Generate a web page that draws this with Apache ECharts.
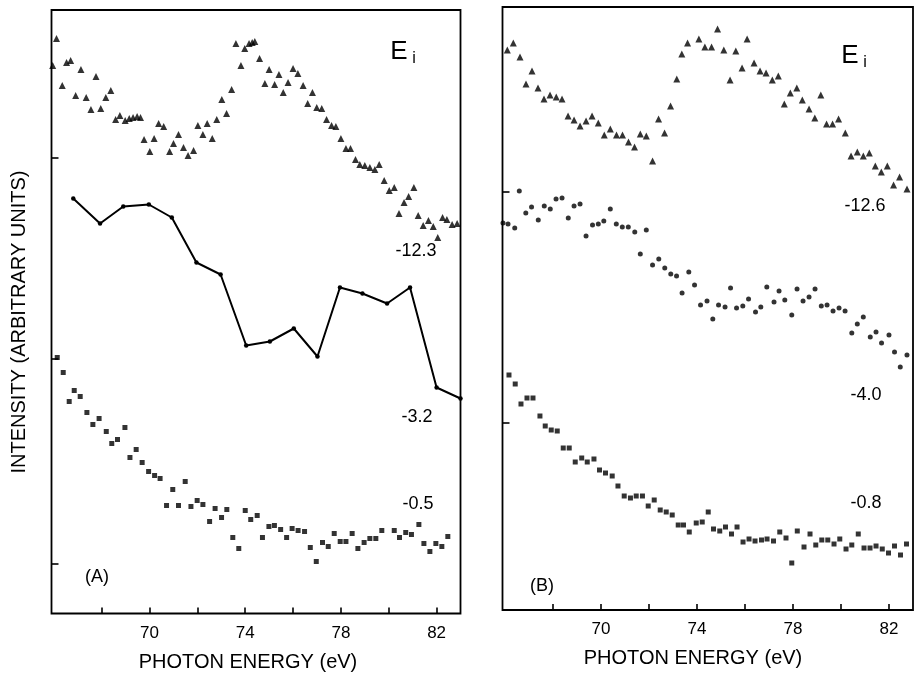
<!DOCTYPE html>
<html>
<head>
<meta charset="utf-8">
<script src="https://cdn.jsdelivr.net/npm/echarts@6/dist/echarts.min.js"></script>
<style>
html,body{margin:0;padding:0;background:#fff;}
#chart{width:914px;height:673px;}
</style>
</head>
<body>
<div id="chart"></div>
<script>
// ---------- Axis / tick definitions ----------
const xRange = [65.9, 83.0];
const xTickValues = [68, 70, 72, 74, 76, 78, 80, 82];
const xLabelValues = [70, 74, 78, 82];
const yTicksA = [4.95, 25.45, 45.55];
const yTicksB = [18.7, 41.8];
const xTitle = 'PHOTON ENERGY (eV)';
const yTitle = 'INTENSITY (ARBITRARY UNITS)';

// ---------- Panel A ----------
// Ei = -12.3 (triangles)
const triA_x = [65.95,66.11,66.35,66.53,66.70,66.91,67.13,67.35,67.55,67.76,67.96,68.17,68.38,68.58,68.76,68.98,69.15,69.31,69.48,69.62,69.77,70.01,70.19,70.38,70.59,70.84,71.00,71.21,71.42,71.61,71.84,72.02,72.23,72.41,72.62,72.81,73.02,73.22,73.43,73.61,73.82,73.98,74.16,74.29,74.40,74.60,74.82,75.00,75.23,75.41,75.59,75.79,76.00,76.20,76.42,76.61,76.81,76.99,77.20,77.40,77.61,77.79,78.00,78.21,78.40,78.61,78.79,79.00,79.21,79.42,79.60,79.81,80.02,80.23,80.43,80.64,80.83,81.05,81.23,81.44,81.66,81.86,82.05,82.25,82.43,82.65,82.86];
const triA_y = [54.8,57.5,52.8,55.1,55.3,51.8,54.4,51.6,50.4,53.7,50.5,51.6,52.3,49.4,49.8,49.3,49.5,49.6,49.7,49.6,47.4,46.2,47.5,49.0,48.7,46.2,47.0,47.9,46.6,45.8,46.3,48.8,47.9,49.0,47.5,49.4,51.4,50.0,52.4,57.0,54.8,56.5,57.0,57.1,57.2,55.5,53.0,54.4,52.9,53.9,52.1,53.1,54.5,54.0,52.8,51.0,52.1,50.6,50.5,49.4,48.8,48.7,47.5,46.5,46.5,45.4,44.9,44.8,44.6,44.4,44.9,43.3,42.3,42.6,40.0,41.1,41.7,42.6,39.8,38.8,39.3,38.7,37.6,39.6,39.4,38.9,39.0];
// Ei = -3.2 (connected points)
const lineA_x = [66.81,67.93,68.90,69.97,70.93,71.96,72.97,74.04,75.03,76.03,77.02,77.96,78.90,79.93,80.89,82.00,83.00];
const lineA_y = [41.5,39.0,40.7,40.9,39.6,35.1,33.9,26.8,27.2,28.5,25.7,32.6,32.0,31.0,32.6,22.6,21.5];
// Ei = -0.5 (squares)
const sqA_x = [66.14,66.39,66.64,66.85,67.10,67.38,67.63,67.89,68.19,68.42,68.66,68.97,69.18,69.44,69.69,69.96,70.21,70.44,70.71,70.97,71.21,71.49,71.73,71.99,72.23,72.51,72.74,73.01,73.23,73.48,73.73,74.00,74.23,74.50,74.72,74.99,75.22,75.48,75.73,75.96,76.21,76.48,76.72,76.97,77.23,77.47,77.72,77.97,78.21,78.47,78.71,78.97,79.21,79.46,79.71,80.23,80.45,80.71,80.95,81.26,81.47,81.72,81.97,82.22,82.47];
const sqA_y = [25.6,24.1,21.2,22.3,21.7,20.1,18.9,19.5,18.2,17.0,17.4,18.6,15.6,16.4,15.1,14.2,13.8,13.5,10.8,12.4,10.8,13.2,10.7,11.3,10.9,9.2,10.5,9.6,10.4,7.6,6.5,10.3,9.4,9.8,7.6,8.7,8.8,8.4,7.6,8.5,8.3,8.2,6.6,5.2,7.1,6.7,8.0,7.2,7.2,8.0,6.5,7.1,7.5,7.5,8.3,8.3,7.6,8.1,7.9,8.9,7.0,6.2,7.0,6.7,7.7];

// ---------- Panel B ----------
// Ei = -12.6 (triangles)
const triB_x = [66.10,66.35,66.63,66.88,67.13,67.38,67.63,67.88,68.14,68.38,68.63,68.88,69.13,69.38,69.63,69.89,70.14,70.39,70.65,70.90,71.15,71.40,71.64,71.89,72.15,72.40,72.65,72.90,73.16,73.37,73.61,74.08,74.33,74.61,74.86,75.12,75.38,75.62,75.88,76.09,76.38,76.63,76.88,77.14,77.39,77.64,77.89,78.16,78.39,78.67,78.91,79.16,79.40,79.65,79.90,80.18,80.42,80.68,80.93,81.18,81.43,81.68,81.93,82.19,82.44,82.75];
const triB_y = [56.0,56.7,55.3,52.6,53.9,52.2,51.1,51.5,51.3,51.1,49.4,49.0,48.4,48.9,49.4,48.7,47.5,48.1,47.5,47.5,46.8,46.3,47.6,47.4,44.9,49.1,47.7,50.4,53.1,55.6,56.7,57.1,56.3,56.3,58.1,56.0,53.0,55.9,54.2,57.1,54.7,53.9,53.7,53.0,53.4,50.6,51.7,52.2,51.0,50.1,49.2,51.5,48.6,48.6,49.1,47.7,45.4,45.8,45.4,45.7,44.4,43.8,44.4,42.5,43.3,42.1];
// Ei = -4.0 (circles)
const circB_x = [65.92,66.13,66.41,66.60,66.87,67.11,67.39,67.64,67.89,68.13,68.38,68.64,68.88,69.13,69.38,69.65,69.89,70.12,70.39,70.64,70.89,71.14,71.41,71.64,71.89,72.15,72.41,72.66,72.91,73.15,73.38,73.66,73.90,74.15,74.42,74.66,74.90,75.17,75.40,75.65,75.91,76.15,76.44,76.66,76.91,77.21,77.42,77.66,77.95,78.17,78.42,78.67,78.92,79.18,79.42,79.67,79.92,80.17,80.45,80.68,80.93,81.22,81.46,81.69,82.00,82.23,82.47,82.75];
const circB_y = [38.7,38.6,38.2,41.9,39.7,40.3,39.0,40.4,40.1,41.1,41.2,39.2,40.4,40.6,37.4,38.5,38.6,38.9,40.1,38.6,38.3,38.3,37.8,35.6,38.0,34.5,35.1,34.2,33.6,33.4,31.7,33.8,32.5,30.5,30.9,29.1,30.5,30.3,32.2,30.2,30.4,31.1,29.8,30.3,32.3,30.8,31.9,31.0,29.5,32.1,30.9,31.3,32.1,30.4,30.5,29.9,30.2,29.9,27.7,28.6,29.3,27.3,27.8,26.7,27.5,25.8,24.3,25.5];
// Ei = -0.8 (squares)
const sqB_x = [66.17,66.43,66.67,66.92,67.17,67.46,67.68,67.93,68.18,68.43,68.68,68.93,69.20,69.43,69.71,69.94,70.19,70.47,70.71,70.97,71.23,71.47,71.73,71.97,72.22,72.47,72.72,72.97,73.22,73.44,73.68,73.97,74.22,74.47,74.69,74.95,75.19,75.44,75.67,75.92,76.17,76.42,76.69,76.92,77.19,77.45,77.71,77.95,78.18,78.46,78.71,78.95,79.20,79.45,79.71,79.95,80.21,80.45,80.72,80.96,81.21,81.46,81.72,81.98,82.23,82.48,82.73];
const sqB_y = [23.5,22.6,20.6,21.2,21.2,19.4,18.4,18.0,17.9,16.2,16.2,14.8,15.2,14.8,15.1,14.0,13.7,13.4,12.4,11.4,11.2,11.4,11.4,10.4,11.0,10.0,9.8,9.5,8.5,8.5,7.8,8.7,8.8,9.8,8.1,7.9,8.3,7.6,8.3,6.8,7.1,6.9,7.0,7.1,6.9,7.8,7.2,4.7,7.9,6.3,7.6,6.5,7.0,7.0,6.6,7.1,6.1,6.5,7.6,6.2,6.2,6.4,6.1,5.7,6.4,5.5,6.6];

// Curve annotations (Ei values)
const labelsA = ['-12.3', '-3.2', '-0.5'];
const labelsB = ['-12.6', '-4.0', '-0.8'];

// ---------- build ----------
const zip = (xs, ys) => xs.map((x, i) => [x, ys[i]]);
const INK = '#000';
const FONT = '"Liberation Sans", Arial, Helvetica, sans-serif';

function xAxisDef(idx) {
  return {
    type: 'value', gridIndex: idx, min: xRange[0], max: xRange[1],
    axisLine: { show: false },
    splitLine: { show: false },
    axisTick: { show: true, inside: true, length: 6, lineStyle: { color: INK, width: 1.6 }, customValues: xTickValues },
    axisLabel: { show: true, customValues: xLabelValues, color: INK, fontSize: 17, fontFamily: FONT, margin: 11 }
  };
}
function yAxisDef(idx, max, ticks) {
  return {
    type: 'value', gridIndex: idx, min: 0, max: max,
    axisLine: { show: false },
    splitLine: { show: false },
    axisTick: { show: true, inside: true, length: 7, lineStyle: { color: INK, width: 1.6 }, customValues: ticks },
    axisLabel: { show: false }
  };
}
function txt(text, x, y, size, extra) {
  return Object.assign({
    type: 'text', x: x, y: y, silent: true,
    style: { text: text, x: 0, y: 0, fill: INK, font: size + 'px ' + FONT, textAlign: 'center', textVerticalAlign: 'middle' }
  }, extra || {});
}

const chart = echarts.init(document.getElementById('chart'), null, { renderer: 'canvas' });
chart.setOption({
  backgroundColor: '#fff',
  animation: false,
  grid: [
    { left: 51.5, top: 10, width: 409, height: 603.5, show: true, borderColor: INK, borderWidth: 1.8, backgroundColor: 'transparent' },
    { left: 502.5, top: 7, width: 410.5, height: 603, show: true, borderColor: INK, borderWidth: 1.8, backgroundColor: 'transparent' }
  ],
  xAxis: [xAxisDef(0), xAxisDef(1)],
  yAxis: [yAxisDef(0, 60.35, yTicksA), yAxisDef(1, 60.3, yTicksB)],
  series: [
    { type: 'scatter', xAxisIndex: 0, yAxisIndex: 0, symbol: 'triangle', symbolSize: 7, itemStyle: { color: INK }, data: zip(triA_x, triA_y) },
    { type: 'line', xAxisIndex: 0, yAxisIndex: 0, symbol: 'circle', symbolSize: 4.5, showSymbol: true, lineStyle: { color: INK, width: 2 }, itemStyle: { color: INK }, data: zip(lineA_x, lineA_y) },
    { type: 'scatter', xAxisIndex: 0, yAxisIndex: 0, symbol: 'rect', symbolSize: 5, itemStyle: { color: INK }, data: zip(sqA_x, sqA_y) },
    { type: 'scatter', xAxisIndex: 1, yAxisIndex: 1, symbol: 'triangle', symbolSize: 7, itemStyle: { color: INK }, data: zip(triB_x, triB_y) },
    { type: 'scatter', xAxisIndex: 1, yAxisIndex: 1, symbol: 'circle', symbolSize: 5, itemStyle: { color: INK }, data: zip(circB_x, circB_y) },
    { type: 'scatter', xAxisIndex: 1, yAxisIndex: 1, symbol: 'rect', symbolSize: 5, itemStyle: { color: INK }, data: zip(sqB_x, sqB_y) }
  ],
  graphic: [
    txt(yTitle, 19, 322, 20, { rotation: Math.PI / 2 }),
    txt(xTitle, 248, 662, 20),
    txt(xTitle, 693, 658, 20),
    txt('E', 399, 52, 26),
    txt('i', 414, 59, 16),
    txt('E', 850, 56, 26),
    txt('i', 865, 63, 16),
    txt(labelsA[0], 416, 251, 18),
    txt(labelsA[1], 417, 417, 18),
    txt(labelsA[2], 418, 504, 18),
    txt('(A)', 97, 577, 18),
    txt(labelsB[0], 865, 206, 18),
    txt(labelsB[1], 866, 395, 18),
    txt(labelsB[2], 866, 503, 18),
    txt('(B)', 542, 586, 18)
  ]
});
</script>
</body>
</html>
